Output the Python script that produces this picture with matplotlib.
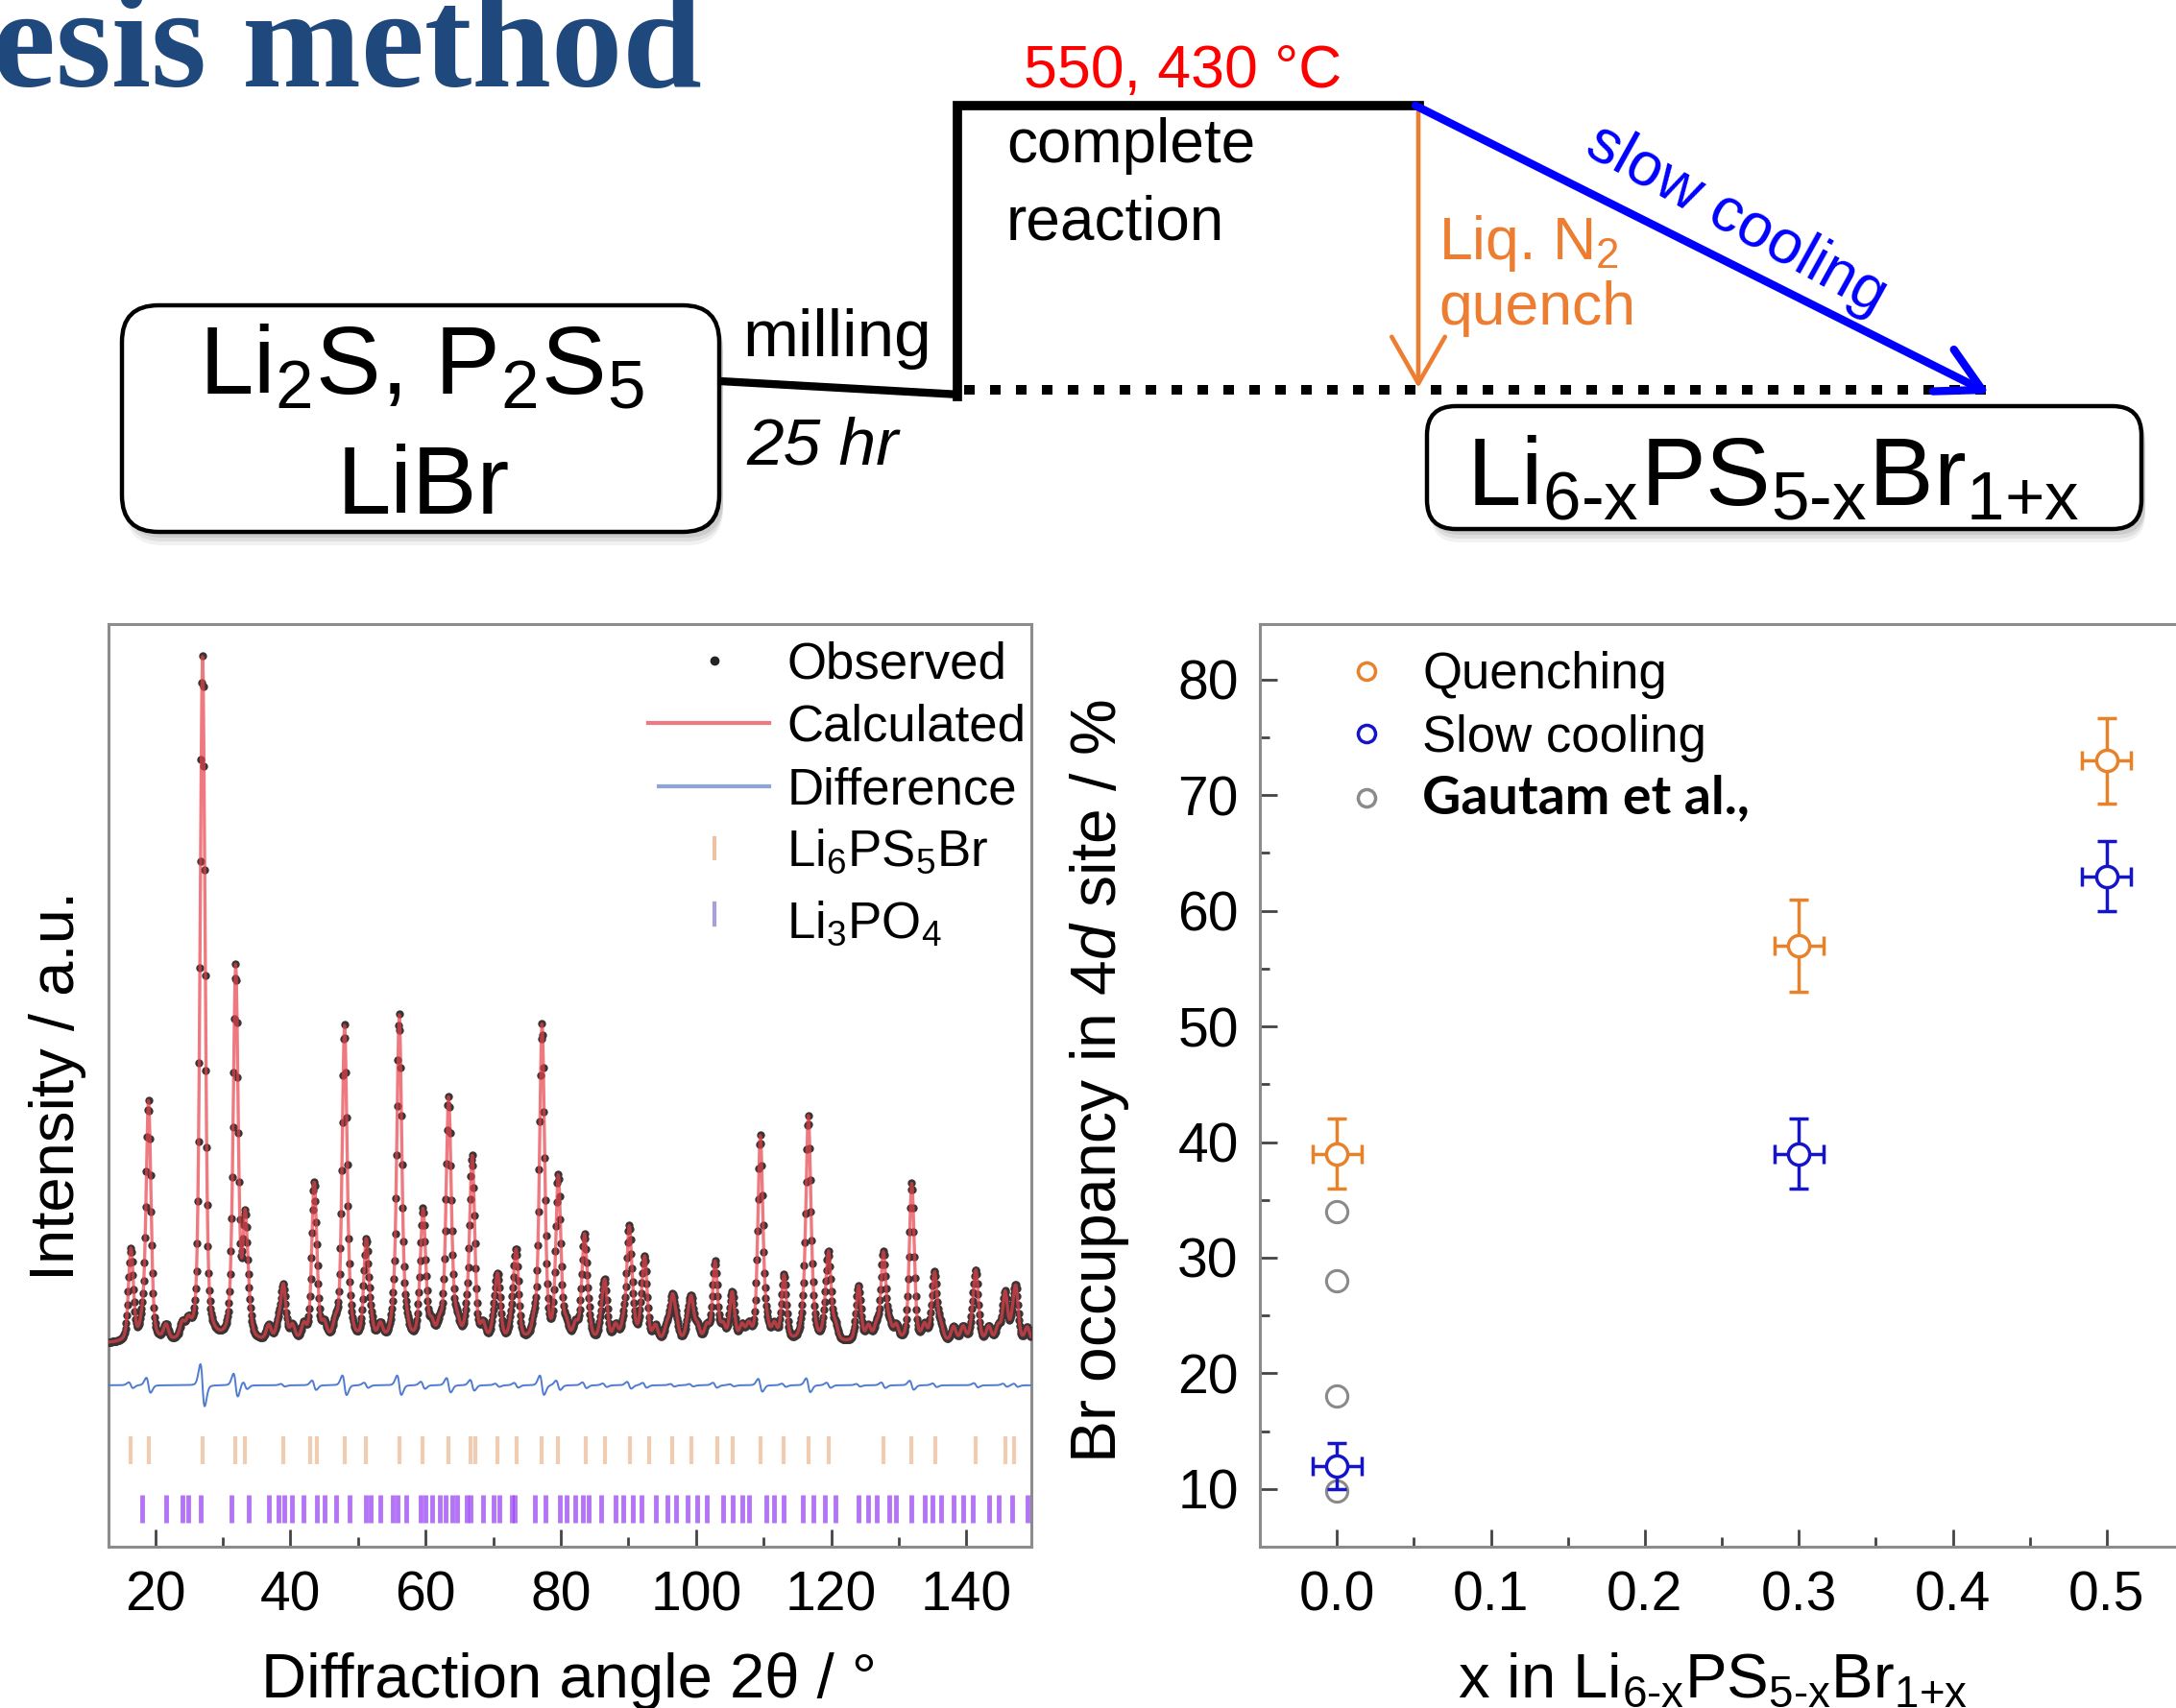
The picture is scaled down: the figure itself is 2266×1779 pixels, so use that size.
import numpy as np
import matplotlib
matplotlib.use("Agg")
import matplotlib.pyplot as plt
from matplotlib.patches import FancyBboxPatch

plt.rcParams['font.family'] = ['Liberation Sans', 'DejaVu Sans']
plt.rcParams['mathtext.fontset'] = 'custom'
plt.rcParams['mathtext.rm'] = 'Liberation Sans'
plt.rcParams['mathtext.it'] = 'Liberation Sans:italic'
plt.rcParams['mathtext.default'] = 'regular'

W, H = 2266, 1779
HY = '\u2010'  # plain hyphen inside subscripts

# ---- refinement pattern (peak positions / tops) ----
peak_pos = [16.4, 19.0, 27.0, 31.9, 33.3, 38.9, 43.5, 48.0, 51.2, 56.1,
            59.6, 63.4, 66.9, 70.6, 73.4, 77.2, 79.6, 83.5, 86.5, 90.1,
            92.4, 96.5, 99.3, 102.8, 105.3, 109.5, 113.0, 116.6, 119.6, 124.0,
            127.7, 131.9, 135.3, 141.4, 145.7, 147.3]
peak_top = [32.0, 48.0, 95.0, 62.0, 34.5, 26.5, 38.3, 56.0, 31.0, 55.8,
            34.4, 47.0, 40.7, 27.5, 30.2, 55.6, 38.3, 32.0, 28.0, 33.8,
            30.5, 26.5, 26.2, 30.6, 25.7, 44.2, 27.5, 46.0, 31.0, 26.5,
            31.5, 37.6, 28.3, 29.2, 27.3, 27.5]
background = 22.0
impurity_height = 1.6
diff_offset = 17.5
two_theta_range = (13.1, 149.6)

ref_li6ps5br = [16.4, 19.0, 27.0, 31.9, 33.3, 38.9, 42.9, 43.9, 48.0, 51.2,
                56.1, 59.6, 63.4, 66.6, 67.3, 70.6, 73.4, 77.2, 79.6, 83.7,
                86.5, 90.2, 93.1, 96.5, 99.3, 103.1, 105.4, 109.6, 113.0, 116.7,
                119.6, 127.7, 131.9, 135.4, 141.4, 145.7, 147.1]
ref_li3po4 = [18.1, 21.6, 24.0, 24.9, 26.8, 31.3, 33.9, 36.8, 38.2, 39.1,
              40.3, 42.0, 43.9, 45.0, 46.7, 48.8, 51.2, 51.9, 53.3, 55.2,
              55.9, 57.1, 59.2, 60.0, 60.9, 62.1, 63.0, 64.0, 64.7, 66.1,
              66.6, 68.5, 70.1, 70.9, 72.7, 73.2, 76.1, 77.7, 79.8, 80.8,
              82.2, 83.2, 84.1, 86.0, 88.1, 89.3, 90.7, 91.9, 94.0, 95.7,
              97.1, 98.8, 100.2, 101.6, 104.0, 105.4, 106.8, 107.8, 110.4, 111.6,
              113.0, 115.8, 117.3, 119.1, 120.6, 124.1, 125.5, 126.7, 128.6, 129.6,
              131.9, 133.8, 135.0, 136.2, 138.1, 139.5, 140.9, 143.3, 144.7, 146.8,
              149.0]

# ---- Br occupancy in 4d site ----
x_quench = [0.0, 0.3, 0.5]
occ_quench = [39.0, 57.0, 73.0]
err_quench = [3.0, 4.0, 3.7]
x_slow = [0.0, 0.3, 0.5]
occ_slow = [12.0, 39.0, 63.0]
err_slow = [2.0, 3.0, 3.0]
x_err = 0.016
x_gautam = [0.0, 0.0, 0.0, 0.0]
occ_gautam = [34.0, 28.0, 18.0, 9.8]

ORANGE = '#E8822A'
BLUE = '#1414C8'
GRAY = '#8A8A8A'
SPINE = '#8C8C8C'


def profile(tt, positions, heights, fwhm=0.85, eta=0.4):
    y = np.zeros_like(tt)
    for p, h in zip(positions, heights):
        g = np.exp(-4 * np.log(2) * ((tt - p) / fwhm) ** 2)
        l = 1.0 / (1.0 + 4 * ((tt - p) / fwhm) ** 2)
        y += h * (eta * l + (1 - eta) * g)
    return y


def pattern(tt, shift=0.0):
    main = profile(tt, [p + shift for p in peak_pos],
                   [t - background for t in peak_top])
    extra = profile(tt, ref_li3po4, [impurity_height] * len(ref_li3po4))
    return background + main + extra


fig = plt.figure(figsize=(W / 100, H / 100), dpi=100)

# ---------- synthesis scheme (pixel coordinates) ----------
sk = fig.add_axes([0, 0, 1, 1])
sk.set_xlim(0, W)
sk.set_ylim(H, 0)
sk.axis('off')

sk.text(-8, 90, 'esis method', fontsize=107, fontweight='bold',
        family='Liberation Serif', color='#1F497D', ha='left', va='baseline')


def box(x0, y0, w, h, r):
    for k, a in [(14, 0.10), (10, 0.14), (6, 0.18)]:
        sk.add_patch(FancyBboxPatch((x0 + 4, y0 + k), w, h,
                                    boxstyle=f'round,pad=0,rounding_size={r}',
                                    fc='#777777', ec='none', alpha=a))
    sk.add_patch(FancyBboxPatch((x0, y0), w, h,
                                boxstyle=f'round,pad=0,rounding_size={r}',
                                fc='white', ec='black', lw=3.2))


box(127, 318, 622, 236, 38)
box(1486, 423, 744, 128, 30)

sk.text(439, 411, 'Li$_2$S, P$_2$S$_5$', fontsize=73, ha='center', va='baseline')
sk.text(441, 535, 'LiBr', fontsize=73, ha='center', va='baseline')
sk.text(1846, 527, f'Li$_{{6{HY}x}}$PS$_{{5{HY}x}}$Br$_{{1{{+}}x}}$', fontsize=73,
        ha='center', va='baseline')

# heating profile
sk.plot([750, 1000], [397, 411], color='black', lw=6, solid_capstyle='butt')
sk.plot([997, 997, 1478], [413, 110, 110], color='black', lw=7,
        solid_joinstyle='miter')
sk.plot([1004, 2074], [406, 406], color='black', lw=7.2,
        linestyle=(0, (1.1, 1.6)))

sk.annotate('', xy=(1477, 404), xytext=(1477, 116),
            arrowprops=dict(arrowstyle='->,head_length=0.7,head_width=0.4',
                            color='#ED7D31', lw=3.3, mutation_scale=50,
                            shrinkA=0, shrinkB=0))
sk.annotate('', xy=(2072, 410), xytext=(1474, 110),
            arrowprops=dict(arrowstyle='->,head_length=0.65,head_width=0.35',
                            color='#0000FF', lw=6, mutation_scale=50,
                            shrinkA=0, shrinkB=0))

sk.text(773, 371, 'milling', fontsize=50, ha='left', va='baseline')
sk.text(777, 483, '25 hr', fontsize=50, style='italic', ha='left', va='baseline')
sk.text(1066, 91, '550, 430 °C', fontsize=45, color='#FF0000', ha='left',
        va='baseline')
sk.text(1048, 169, 'complete', fontsize=46, ha='left', va='baseline')
sk.text(1048, 249, 'reaction', fontsize=46, ha='left', va='baseline')
sk.text(1498, 270, 'Liq. N$_2$', fontsize=45, color='#ED7D31', ha='left',
        va='baseline')
sk.text(1498, 338, 'quench', fontsize=45, color='#ED7D31', ha='left',
        va='baseline')
sk.text(1808, 229, 'slow cooling', fontsize=46, color='#0000FF', rotation=-29,
        ha='center', va='center', rotation_mode='anchor')

# ---------- refinement panel ----------
ax1 = fig.add_axes([113 / W, 1 - 1611 / H, (1074 - 113) / W, (1611 - 650) / H])
tt = np.arange(two_theta_range[0], two_theta_range[1], 0.1)
observed = pattern(tt)
calculated = pattern(tt, shift=0.02)
difference = observed - calculated + diff_offset

ax1.plot(tt, observed, 'o', ms=6, color='#3C3434', mec='none', zorder=3)
ax1.plot(tt, calculated, color='#E8404A', lw=2.4, alpha=0.7, zorder=4)
ax1.plot(tt, difference, color='#4F7BD0', lw=1.4, zorder=3)
ax1.vlines(ref_li6ps5br, 9.0, 12.0, color='#F0CDB2', lw=3)
ax1.vlines(ref_li3po4, 2.6, 5.6, color='#9B45F5', lw=3.5, alpha=0.75)

ax1.set_xlim(*two_theta_range)
ax1.set_ylim(0, 100)
ax1.set_yticks([])
ax1.set_xticks([20, 40, 60, 80, 100, 120, 140])
ax1.set_xticks(range(30, 150, 20), minor=True)
ax1.tick_params(axis='x', which='major', direction='in', length=13, width=2,
                color='#444444', labelsize=41, pad=18)
ax1.tick_params(axis='x', which='minor', direction='in', length=7, width=2,
                color='#444444')
for s in ax1.spines.values():
    s.set_color(SPINE)
    s.set_linewidth(2.2)
ax1.set_xlabel('Diffraction angle 2θ / °', fontsize=47)
ax1.xaxis.set_label_coords(0.499, -0.114)
ax1.set_ylabel('Intensity / a.u.', fontsize=47)
ax1.yaxis.set_label_coords(-0.024, 0.50)

# legend (axes fractions)
lx_txt = 0.735
rows = [0.960, 0.893, 0.824, 0.757, 0.679]
ax1.plot([0.657], [rows[0]], 'o', ms=6, color='#222222', transform=ax1.transAxes)
ax1.plot([0.585, 0.716], [rows[1]] * 2, color='#E8404A', lw=3, alpha=0.7,
         transform=ax1.transAxes)
ax1.plot([0.596, 0.716], [rows[2]] * 2, color='#8DA6DA', lw=3,
         transform=ax1.transAxes)
ax1.plot([0.657, 0.657], [rows[3] - 0.011, rows[3] + 0.011], color='#EDC3A3',
         lw=3, transform=ax1.transAxes)
ax1.plot([0.657, 0.657], [rows[4] - 0.005, rows[4] + 0.018], color='#A9A0D8',
         lw=3, transform=ax1.transAxes)
labels1 = ['Observed', 'Calculated', 'Difference', 'Li$_6$PS$_5$Br', 'Li$_3$PO$_4$']
for yy, lab in zip(rows, labels1):
    ax1.text(lx_txt, yy - 0.019, lab, fontsize=38, transform=ax1.transAxes,
             ha='left', va='baseline')

# ---------- Br occupancy panel ----------
ax2 = fig.add_axes([1312 / W, 1 - 1611 / H, (2274 - 1312) / W, (1611 - 650) / H])
ax2.errorbar(x_gautam, occ_gautam, fmt='o', ms=16, mfc='none', mec=GRAY,
             mew=2.2, zorder=2)
ax2.errorbar(x_quench, occ_quench, yerr=err_quench, xerr=x_err, fmt='o', ms=16,
             mfc='white', mec=ORANGE, mew=2.5, ecolor=ORANGE, elinewidth=2.5,
             capsize=7, capthick=2.5, zorder=3)
ax2.errorbar(x_slow, occ_slow, yerr=err_slow, xerr=x_err, fmt='o', ms=16,
             mfc='white', mec=BLUE, mew=2.5, ecolor=BLUE, elinewidth=2.5,
             capsize=7, capthick=2.5, zorder=3)
ax2.set_xlim(-0.05, 0.55)
ax2.set_ylim(5, 84.8)
ax2.set_xticks([0.0, 0.1, 0.2, 0.3, 0.4, 0.5])
ax2.set_xticks([0.05, 0.15, 0.25, 0.35, 0.45], minor=True)
ax2.set_yticks(range(10, 81, 10))
ax2.set_yticks(range(15, 81, 10), minor=True)
ax2.tick_params(which='major', direction='in', length=13, width=2,
                color='#444444', labelsize=41, pad=16)
ax2.tick_params(which='minor', direction='in', length=7, width=2,
                color='#444444')
ax2.tick_params(axis='x', pad=18)
for s in ax2.spines.values():
    s.set_color(SPINE)
    s.set_linewidth(2.2)
ax2.set_xlabel(f'x in Li$_{{6{HY}x}}$PS$_{{5{HY}x}}$Br$_{{1{{+}}x}}$', fontsize=47)
ax2.xaxis.set_label_coords(0.49, -0.114)
ax2.set_ylabel('Br occupancy in 4$\\mathit{d}$ site / %', fontsize=47.5)
ax2.yaxis.set_label_coords(-0.139, 0.505)

rows2 = [0.949, 0.881, 0.812]
cols2 = [ORANGE, BLUE, GRAY]
labels2 = ['Quenching', 'Slow cooling', 'Gautam et al.,']
for yy, c, lab in zip(rows2, cols2, labels2):
    ax2.plot([0.115], [yy], 'o', ms=13, mfc='none', mec=c, mew=2.5,
             transform=ax2.transAxes)
    if lab.startswith('Gautam'):
        ax2.text(0.176, yy, lab, fontsize=40, family='Lato', fontweight='bold',
                 transform=ax2.transAxes, ha='left', va='center')
    else:
        ax2.text(0.176, yy - 0.019, lab, fontsize=38, transform=ax2.transAxes,
                 ha='left', va='baseline')

fig.savefig('out.png', dpi=100)
